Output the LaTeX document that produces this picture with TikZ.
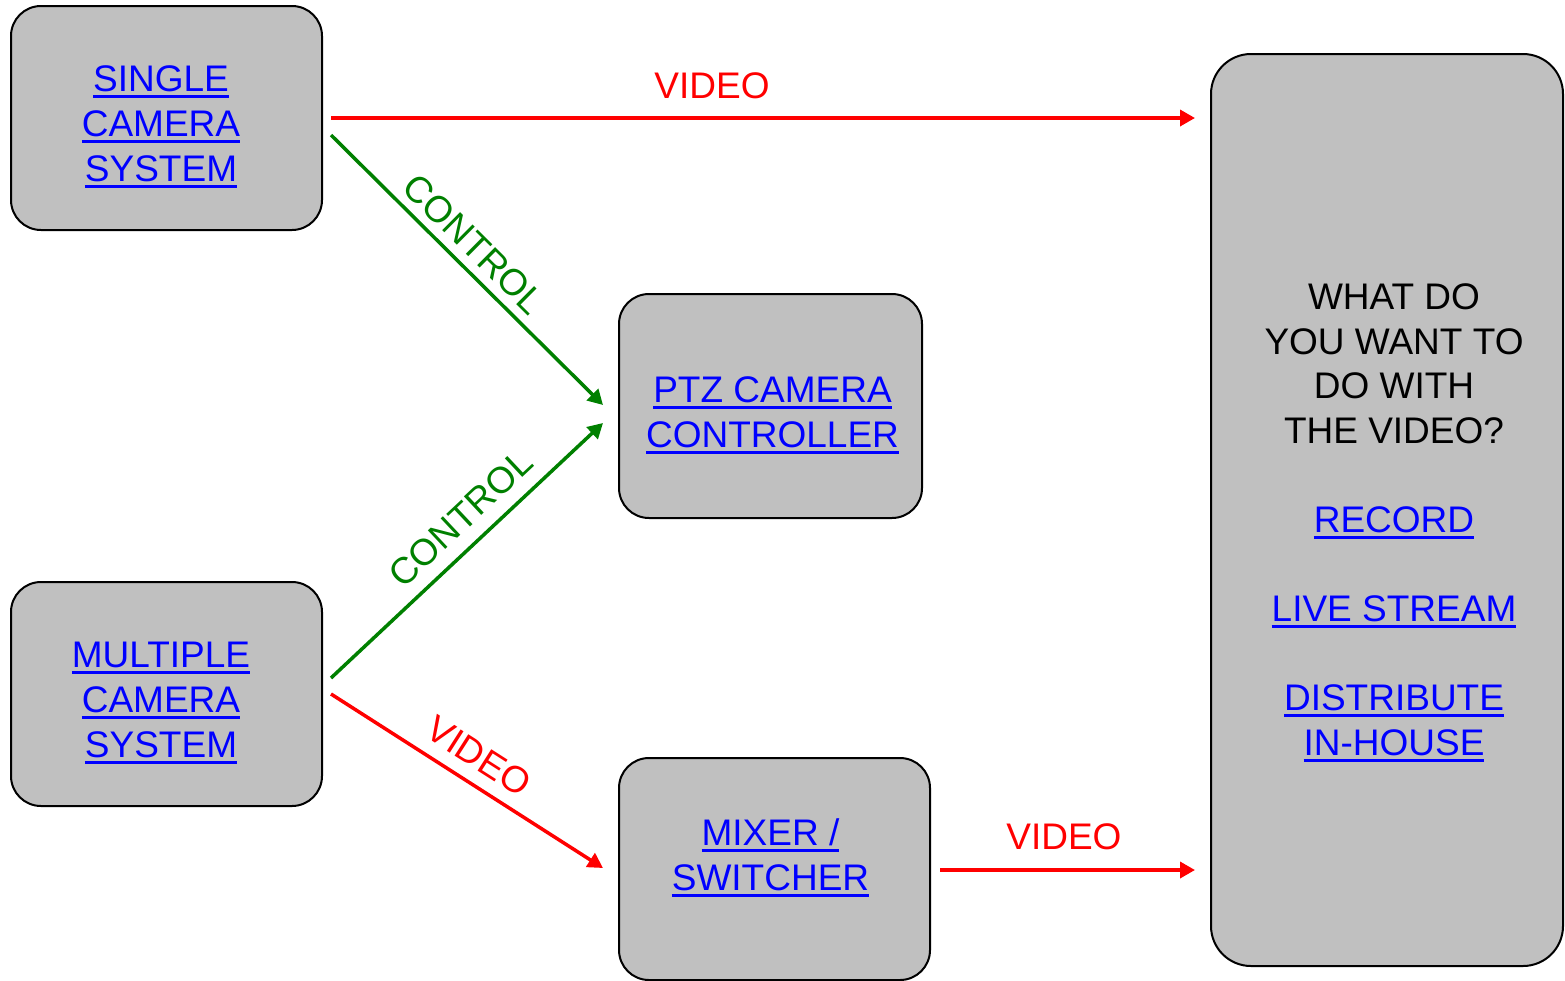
\documentclass[tikz,border=0pt]{standalone}
\usepackage{fontspec}
\setmainfont{Liberation Sans}
\usetikzlibrary{arrows.meta,calc}
\definecolor{boxgray}{HTML}{C0C0C0}
\definecolor{linkblue}{HTML}{0000FF}
\definecolor{ctrlgreen}{HTML}{008000}
\definecolor{vidred}{HTML}{FF0000}
% underlined hyperlink-style text
\newcommand\lnk[1]{\leavevmode\sbox0{#1}\rlap{\rule[-6.5pt]{\wd0}{3pt}}\usebox0}
\begin{document}
\begin{tikzpicture}[x=1pt,y=-1pt,
  panel/.style={draw=black,line width=2pt,fill=boxgray,rounded corners=30pt,inner sep=0pt,outer sep=0pt},
  linktext/.style={text=linkblue,align=center,inner sep=0pt,font=\fontsize{37}{45}\selectfont},
  bigtext/.style={align=center,inner sep=0pt,font=\fontsize{37}{44.6}\selectfont},
  flowlabel/.style={inner sep=0pt,font=\fontsize{37}{45}\selectfont},
  video/.style={draw=vidred,line width=3.5pt,-{Triangle[length=15pt,width=16pt]}},
  control/.style={draw=ctrlgreen,line width=3.5pt,-{Triangle[length=15pt,width=16pt]}}]
\useasboundingbox (0,0) rectangle (1565,980);

% boxes
\node[panel,minimum width=311pt,minimum height=224pt] (single) at (166.5,118) {};
\node[panel,minimum width=311pt,minimum height=224pt] (multi) at (166.5,694) {};
\node[panel,minimum width=303pt,minimum height=224pt] (ptz) at (770.5,406) {};
\node[panel,minimum width=311pt,minimum height=222pt] (mixer) at (774.5,869) {};
\node[panel,rounded corners=40pt,minimum width=352pt,minimum height=912pt] (out) at (1387,510) {};

% box texts
\node[linktext] (singletxt) at (161,127.25) {\lnk{SINGLE}\\\lnk{CAMERA}\\\lnk{SYSTEM}};
\node[linktext] (multitxt) at (161,702.75) {\lnk{MULTIPLE}\\\lnk{CAMERA}\\\lnk{SYSTEM}};
\node[linktext] (ptztxt) at (772.5,415.5) {\lnk{PTZ CAMERA}\\\lnk{CONTROLLER}};
\node[linktext] (mixertxt) at (770.5,858) {\lnk{MIXER /}\\\lnk{SWITCHER}};
\node[bigtext] (outtxt) at (1394,522.75) {WHAT DO\\YOU WANT TO\\DO WITH\\THE VIDEO?\\[44.6pt]
  \textcolor{linkblue}{\lnk{RECORD}}\\[44.6pt]
  \textcolor{linkblue}{\lnk{LIVE STREAM}}\\[44.6pt]
  \textcolor{linkblue}{\lnk{DISTRIBUTE}}\\
  \textcolor{linkblue}{\lnk{IN-HOUSE}}};

% connectors
\draw[video] ($(single.east)+(9,0)$) -- ($(out.west |- single.east)+(-16,0)$)
  node[flowlabel,text=vidred,pos=0.441,above=17pt] (lv1) {VIDEO};
\draw[control] ($(single.east)+(9,17)$) -- ($(ptz.west)+(-16,-1)$)
  node[flowlabel,text=ctrlgreen,pos=0.465,sloped,above=8.5pt] (lc1) {CONTROL};
\draw[control] ($(multi.east)+(9,-16)$) -- ($(ptz.west)+(-16,17)$)
  node[flowlabel,text=ctrlgreen,pos=0.546,sloped,above=13pt] (lc2) {CONTROL};
\draw[video] ($(multi.east)+(9,0)$) -- ($(mixer.west)+(-16,-1)$)
  node[flowlabel,text=vidred,pos=0.489,sloped,above=12.5pt] (lv2) {VIDEO};
\draw[video] ($(mixer.east)+(10,1)$) -- ($(out.west |- mixer.east)+(-16,1)$)
  node[flowlabel,text=vidred,pos=0.486,above=18pt] (lv3) {VIDEO};
\end{tikzpicture}
\end{document}
